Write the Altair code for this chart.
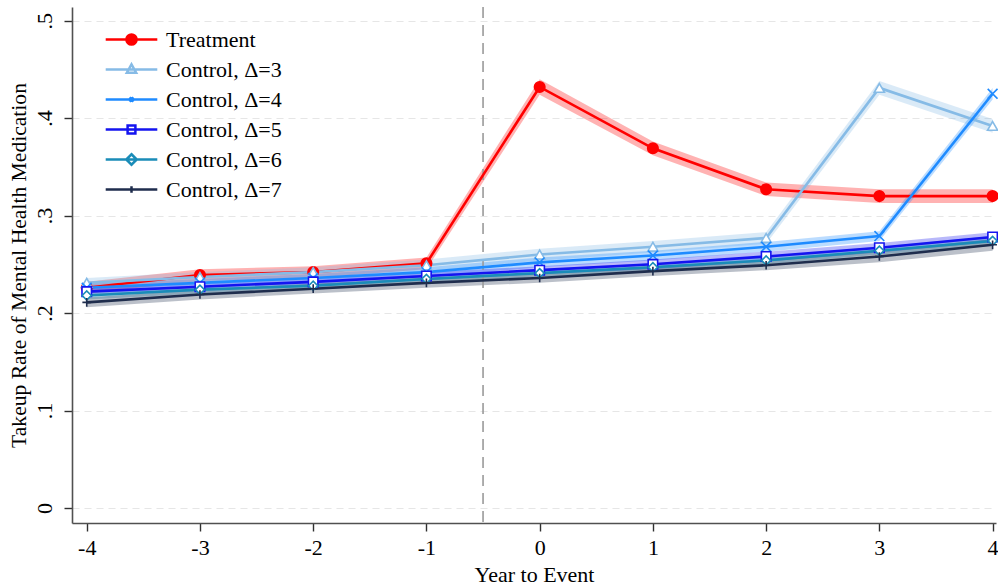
import altair as alt
import pandas as pd

# ---- data -------------------------------------------------------------
years = [-4, -3, -2, -1, 0, 1, 2, 3, 4]
series_names = [
    "Treatment",
    "Control, Δ=3",
    "Control, Δ=4",
    "Control, Δ=5",
    "Control, Δ=6",
    "Control, Δ=7",
]

treatment = [0.226, 0.239, 0.242, 0.251, 0.432, 0.369, 0.327, 0.320, 0.320]
control_d3 = [0.231, 0.237, 0.242, 0.249, 0.260, 0.268, 0.277, 0.431, 0.392]
control_d4 = [0.226, 0.231, 0.236, 0.242, 0.252, 0.259, 0.268, 0.279, 0.425]
control_d5 = [0.222, 0.227, 0.232, 0.238, 0.244, 0.250, 0.258, 0.267, 0.278]
control_d6 = [0.218, 0.224, 0.228, 0.235, 0.241, 0.247, 0.254, 0.264, 0.274]
control_d7 = [0.211, 0.219, 0.225, 0.231, 0.236, 0.243, 0.249, 0.258, 0.270]

# half-width of the confidence band around each series
treatment_ci = [0.006, 0.006, 0.006, 0.006, 0.008, 0.007, 0.007, 0.007, 0.007]
control_d3_ci = [0.005, 0.005, 0.005, 0.006, 0.006, 0.006, 0.006, 0.007, 0.007]
control_d4_ci = [0.004, 0.004, 0.004, 0.005, 0.005, 0.005, 0.005, 0.005, 0.006]
control_d5_ci = [0.004, 0.004, 0.004, 0.004, 0.004, 0.005, 0.005, 0.005, 0.005]
control_d6_ci = [0.004, 0.004, 0.004, 0.004, 0.004, 0.004, 0.004, 0.004, 0.005]
control_d7_ci = [0.005, 0.005, 0.005, 0.005, 0.005, 0.005, 0.005, 0.006, 0.006]

y_ticks = [0, 0.1, 0.2, 0.3, 0.4, 0.5]

values = [treatment, control_d3, control_d4, control_d5, control_d6, control_d7]
bands = [treatment_ci, control_d3_ci, control_d4_ci, control_d5_ci, control_d6_ci, control_d7_ci]

rows = []
for name, vals, ci in zip(series_names, values, bands):
    for yr, v, h in zip(years, vals, ci):
        rows.append({"year": yr, "series": name, "value": v, "lo": v - h, "hi": v + h})
df = pd.DataFrame(rows)
legend_df = df[df["year"] == years[0]]

# ---- styles -----------------------------------------------------------
FONT = "Liberation Serif"
line_colors = ["#ff0000", "#86bbe6", "#1f8bff", "#1414f0", "#1a8cb8", "#1f2d4d"]
marker_fills = ["#ff0000", "white", "white", "white", "white", "white"]
marker_sizes = [110, 75, 45, 70, 80, 80]
marker_shapes = [
    "circle",
    "triangle-up",
    "M-1,-1L1,1M-1,1L1,-1",
    "square",
    "diamond",
    "M0,-1V1M-1,0H1",
]


def ring(r):
    return f"M{r},0A{r},{r},0,1,1,-{r},0A{r},{r},0,1,1,{r},0Z"


# legend keys: a line segment wider than the nominal symbol box, with the
# series marker on top (the solid dot is built from nested rings)
KEY_LINE = "M-1.72,0H1.72"
legend_shapes = [
    KEY_LINE + ring(0.34) + ring(0.19) + ring(0.06),
    KEY_LINE + "M0,-0.34L0.31,0.21L-0.31,0.21Z",
    KEY_LINE + "M-0.12,-0.15L0.12,0.15M-0.12,0.15L0.12,-0.15",
    KEY_LINE + "M-0.26,-0.26H0.26V0.26H-0.26Z",
    KEY_LINE + "M0,-0.35L0.35,0L0,0.35L-0.35,0Z",
    KEY_LINE + "M0,-0.21V0.21",
]

x_scale = alt.Scale(domain=[-4.13, 4.03], nice=False, zero=False)
y_scale = alt.Scale(domain=[-0.0154, 0.514], nice=False, zero=False)

x_enc = alt.X(
    "year:Q",
    scale=x_scale,
    axis=alt.Axis(
        values=years,
        labelExpr="'' + datum.value",
        title="Year to Event",
        grid=False,
        tickSize=8,
        labelPadding=6,
        titlePadding=6,
    ),
)
y_enc = alt.Y(
    "value:Q",
    scale=y_scale,
    axis=alt.Axis(
        values=y_ticks,
        labelExpr="datum.value == 0 ? '0' : '.' + round(datum.value * 10)",
        labelAngle=270,
        labelAlign="center",
        labelBaseline="bottom",
        title="Takeup Rate of Mental Health Medication",
        titleFontSize=21.6,
        grid=True,
        gridDash=[7, 5],
        gridColor="#e6e6e6",
        gridWidth=1.2,
        tickSize=8,
        labelPadding=8,
        titlePadding=3,
    ),
)

base = alt.Chart(df)

band_layer = base.mark_area(fillOpacity=0.3).encode(
    x=x_enc,
    y=alt.Y("lo:Q", scale=y_scale),
    y2="hi:Q",
    fill=alt.Fill("series:N", scale=alt.Scale(domain=series_names, range=line_colors), legend=None),
)

line_layer = base.mark_line(strokeWidth=2.6).encode(
    x=x_enc,
    y=y_enc,
    stroke=alt.Stroke("series:N", scale=alt.Scale(domain=series_names, range=line_colors), legend=None),
)

marker_layer = base.mark_point(strokeWidth=1.6, opacity=1).encode(
    x=x_enc,
    y=y_enc,
    stroke=alt.Stroke("series:N", scale=alt.Scale(domain=series_names, range=line_colors), legend=None),
    fill=alt.Fill("series:N", scale=alt.Scale(domain=series_names, range=marker_fills), legend=None),
    shape=alt.Shape("series:N", scale=alt.Scale(domain=series_names, range=marker_shapes), legend=None),
    size=alt.Size("series:N", scale=alt.Scale(domain=series_names, range=marker_sizes), legend=None),
)

legend_spec = alt.Legend(
    orient="none",
    legendX=43,
    legendY=16,
    title=None,
    padding=0,
    symbolSize=900,
    symbolStrokeWidth=2.5,
    labelFont=FONT,
    labelFontSize=22,
    labelColor="black",
    labelOffset=18,
    rowPadding=2,
)
legend_layer = alt.Chart(legend_df).mark_point(opacity=0, filled=True).encode(
    x=alt.X("year:Q", scale=x_scale),
    y=alt.Y("value:Q", scale=y_scale),
    stroke=alt.Stroke("series:N", scale=alt.Scale(domain=series_names, range=line_colors), legend=legend_spec),
    fill=alt.Fill("series:N", scale=alt.Scale(domain=series_names, range=marker_fills), legend=legend_spec),
    shape=alt.Shape("series:N", scale=alt.Scale(domain=series_names, range=legend_shapes), legend=legend_spec),
)

event_line = alt.Chart(pd.DataFrame({"cut": [-0.5]})).mark_rule(
    strokeDash=[11, 7], color="#9a9a9a", strokeWidth=1.6
).encode(x=alt.X("cut:Q", scale=x_scale))

chart = (
    alt.layer(band_layer, event_line, line_layer, marker_layer, legend_layer)
    .resolve_scale(fill="independent", stroke="independent", shape="independent", size="independent")
    .properties(
        width=924,
        height=516,
        autosize=alt.AutoSizeParams(type="none"),
        padding={"left": 72, "top": 7, "right": 2, "bottom": 65},
        background="white",
    )
    .configure_view(stroke=None)
    .configure_axis(
        labelFont=FONT,
        titleFont=FONT,
        labelFontSize=22,
        titleFontSize=22,
        titleFontWeight="normal",
        labelColor="black",
        titleColor="black",
        domainColor="#505050",
        domainWidth=1.6,
        tickColor="#303030",
        tickWidth=1.4,
    )
)

chart.save("out.html", embed_options={"renderer": "svg", "actions": False})
